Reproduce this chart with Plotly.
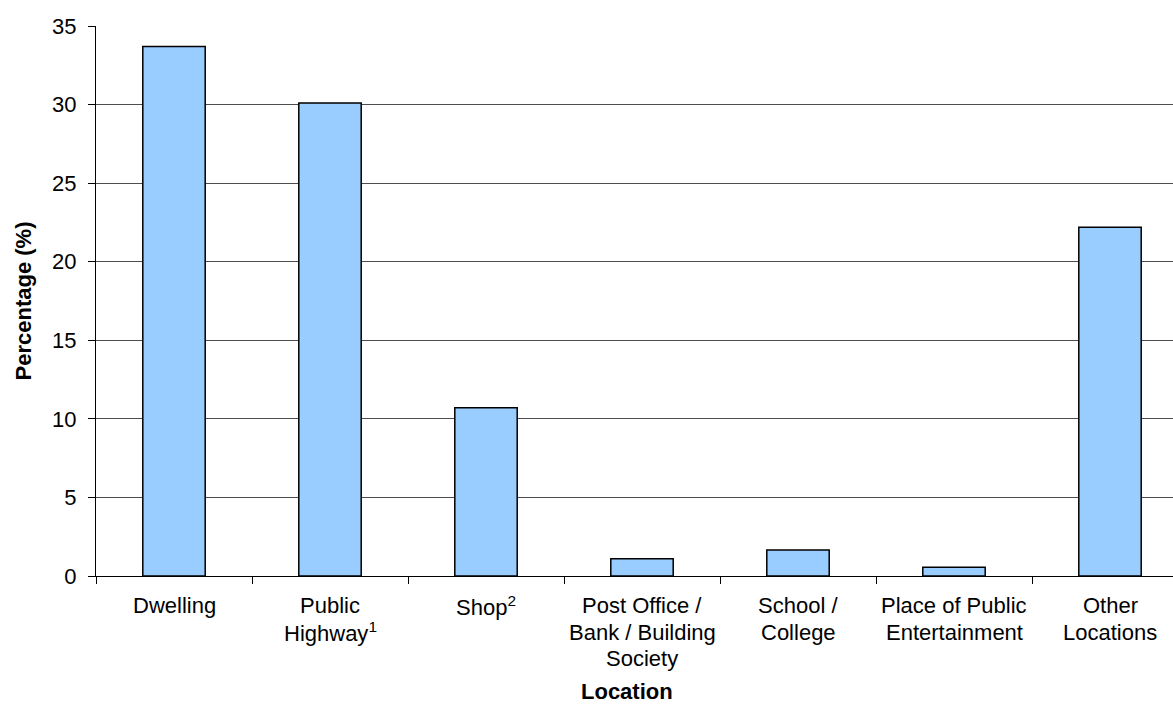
import plotly.graph_objects as go

# Share of incidents by location (%)
locations = [
    "Dwelling",
    "Public<br>Highway<sup>1</sup>",
    "Shop<sup>2</sup>",
    "Post Office /<br>Bank / Building<br>Society",
    "School /<br>College",
    "Place of Public<br>Entertainment",
    "Other<br>Locations",
]
percentages = [33.7, 30.1, 10.7, 1.1, 1.65, 0.55, 22.2]
y_ticks = [0, 5, 10, 15, 20, 25, 30, 35]

FONT = "Liberation Sans, Arial, sans-serif"
W, H = 1173, 705
L, T, B = 96, 26, 129
CAT_PX = 156  # pixel width of one category slot
plot_w = W - L
plot_h = H - B - T
x_span = plot_w / CAT_PX

fig = go.Figure(
    go.Bar(
        x=locations,
        y=percentages,
        width=0.4,
        marker=dict(color="#99CCFF", line=dict(color="#000000", width=1.5)),
        hoverinfo="y",
    )
)


def py_to_paper(py):
    """Pixel row (from top of figure) to paper y coordinate."""
    return (H - B - py) / plot_h


# Category labels drawn line by line for tighter line spacing
LINE1_MID = 605.5
LINE_STEP = 26.7
annotations = []
for name in locations:
    for i, line in enumerate(name.split("<br>")):
        annotations.append(
            dict(
                text=line,
                xref="x",
                yref="paper",
                x=name,
                y=py_to_paper(LINE1_MID + i * LINE_STEP),
                xanchor="center",
                yanchor="middle",
                showarrow=False,
                font=dict(family=FONT, size=22, color="black"),
            )
        )

annotations.append(
    dict(
        text="<b>Location</b>",
        xref="paper",
        yref="paper",
        x=(627 - L) / plot_w,
        y=py_to_paper(691),
        xanchor="center",
        yanchor="middle",
        showarrow=False,
        font=dict(family=FONT, size=22, color="black"),
    )
)

fig.update_layout(
    width=W,
    height=H,
    margin=dict(l=L, r=0, t=T, b=B, pad=0),
    paper_bgcolor="white",
    plot_bgcolor="white",
    showlegend=False,
    font=dict(family=FONT, size=22, color="black"),
    xaxis=dict(
        type="category",
        range=[-0.5, -0.5 + x_span],
        tickson="boundaries",
        ticks="outside",
        ticklen=7,
        tickcolor="black",
        showticklabels=False,
        showline=True,
        linecolor="black",
        linewidth=1,
        showgrid=False,
    ),
    yaxis=dict(
        range=[0, 35],
        tickmode="array",
        tickvals=y_ticks,
        ticks="outside",
        ticklen=7,
        tickcolor="black",
        showline=True,
        linecolor="black",
        linewidth=1,
        showgrid=True,
        gridcolor="#4d4d4d",
        gridwidth=1,
        zeroline=False,
        ticklabelstandoff=7,
        tickfont=dict(family=FONT, size=22, color="black"),
        title=dict(
            text="<b>Percentage (%)</b>",
            font=dict(family=FONT, size=22, color="black"),
            standoff=14,
        ),
    ),
    annotations=annotations,
)

fig.write_html("out.html")
